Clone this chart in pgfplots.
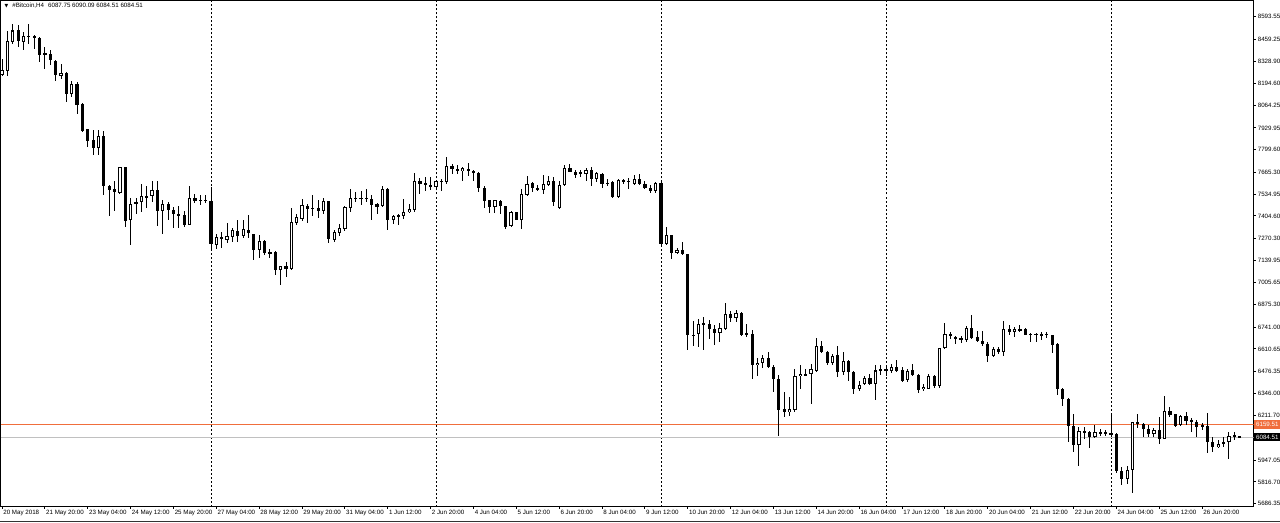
\documentclass[border=0pt]{standalone}
\usepackage{pgfplots}
\usepackage{pgfplotstable}
\usepackage{fontspec}
\pgfplotsset{compat=1.18}
\setmainfont{Liberation Sans}
\newfontfamily\symfont{DejaVu Sans}
\definecolor{askline}{RGB}{240,110,60}
\definecolor{bidline}{RGB}{192,192,192}
\newcommand\mtfont{\fontsize{4.65}{5}\selectfont}

% H4 bars, i = 0 is 27 May 2018 00:00
\pgfplotstableread{
i o h l c
-39 8247 8343 8239 8277
-38 8273 8508 8239 8452
-37 8446 8552 8432 8512
-36 8516 8542 8412 8452
-35 8446 8502 8398 8478
-34 8480 8552 8432 8476
-33 8482 8486 8402 8468
-32 8468 8472 8323 8363
-31 8371 8412 8283 8374
-30 8373 8393 8303 8333
-29 8329 8333 8213 8247
-28 8243 8313 8223 8259
-27 8259 8263 8084 8130
-26 8130 8208 8114 8190
-25 8190 8204 8014 8070
-24 8074 8078 7905 7911
-23 7921 7925 7815 7855
-22 7859 7915 7770 7811
-21 7811 7915 7770 7885
-20 7885 7911 7531 7583
-19 7581 7587 7407 7561
-18 7563 7616 7433 7547
-17 7541 7700 7537 7696
-16 7696 7700 7338 7372
-15 7378 7511 7232 7475
-14 7477 7511 7417 7487
-13 7487 7597 7427 7523
-12 7521 7583 7451 7519
-11 7523 7616 7487 7557
-10 7557 7616 7342 7433
-9 7433 7497 7298 7475
-8 7475 7491 7382 7443
-7 7443 7457 7332 7417
-6 7417 7467 7332 7407
-5 7411 7437 7338 7352
-4 7352 7583 7348 7511
-3 7513 7537 7483 7493
-2 7498 7527 7471 7496
-1 7498 7527 7483 7496
0 7493 7577 7200 7236
1 7230 7295 7210 7278
2 7276 7308 7212 7272
3 7264 7364 7244 7284
4 7278 7332 7252 7318
5 7314 7378 7248 7288
6 7288 7378 7272 7328
7 7322 7413 7272 7302
8 7298 7300 7139 7202
9 7202 7288 7153 7258
10 7258 7264 7173 7185
11 7188 7208 7153 7184
12 7188 7193 7053 7085
13 7085 7108 6994 7105
14 7105 7129 7039 7089
15 7089 7451 7085 7368
16 7364 7417 7352 7398
17 7388 7507 7372 7471
18 7467 7477 7364 7447
19 7453 7527 7407 7449
20 7451 7497 7392 7437
21 7437 7511 7417 7491
22 7491 7493 7244 7268
23 7264 7318 7252 7308
24 7304 7358 7284 7334
25 7328 7463 7312 7457
26 7451 7567 7431 7511
27 7509 7547 7487 7513
28 7511 7551 7471 7507
29 7510 7567 7487 7512
30 7507 7527 7378 7471
31 7477 7483 7417 7457
32 7463 7583 7457 7563
33 7563 7571 7318 7378
34 7378 7411 7358 7403
35 7407 7417 7352 7405
36 7402 7507 7388 7427
37 7427 7477 7423 7447
38 7443 7662 7431 7612
39 7612 7630 7537 7597
40 7598 7636 7551 7596
41 7591 7636 7557 7581
42 7577 7622 7571 7616
43 7616 7626 7551 7606
44 7606 7756 7597 7702
45 7702 7716 7656 7686
46 7686 7710 7656 7672
47 7672 7696 7612 7690
48 7686 7722 7646 7672
49 7672 7682 7616 7662
50 7662 7666 7547 7571
51 7571 7583 7451 7497
52 7497 7503 7423 7457
53 7457 7503 7423 7497
54 7493 7497 7417 7463
55 7463 7467 7328 7338
56 7344 7437 7338 7431
57 7427 7431 7378 7382
58 7378 7567 7328 7537
59 7531 7642 7523 7597
60 7600 7606 7547 7571
61 7568 7587 7551 7566
62 7557 7650 7537 7597
63 7591 7642 7583 7616
64 7616 7636 7463 7487
65 7451 7616 7447 7591
66 7587 7706 7583 7692
67 7692 7716 7666 7670
68 7670 7682 7630 7650
69 7656 7682 7636 7666
70 7656 7690 7616 7682
71 7682 7696 7583 7626
72 7626 7666 7606 7662
73 7656 7662 7571 7597
74 7600 7626 7583 7598
75 7610 7616 7511 7517
76 7517 7626 7511 7620
77 7617 7626 7596 7615
78 7606 7630 7567 7616
79 7597 7650 7591 7626
80 7626 7656 7587 7597
81 7597 7616 7567 7573
82 7573 7587 7543 7551
83 7551 7606 7543 7600
84 7600 7606 7228 7238
85 7238 7338 7230 7292
86 7288 7292 7149 7185
87 7185 7212 7179 7202
88 7202 7252 7173 7179
89 7179 7180 6602 6697
90 6691 6775 6631 6697
91 6697 6791 6621 6761
92 6758 6801 6602 6762
93 6761 6781 6671 6731
94 6731 6751 6635 6707
95 6707 6767 6651 6735
96 6731 6886 6721 6818
97 6818 6840 6771 6795
98 6795 6846 6771 6824
99 6824 6830 6691 6697
100 6703 6761 6681 6697
101 6701 6725 6432 6512
102 6512 6556 6452 6528
103 6528 6572 6496 6558
104 6558 6592 6496 6502
105 6502 6512 6353 6432
106 6432 6456 6094 6249
107 6253 6353 6203 6233
108 6233 6323 6213 6253
109 6249 6488 6237 6448
110 6448 6512 6373 6462
111 6460 6492 6448 6456
112 6462 6522 6283 6492
113 6482 6675 6472 6627
114 6627 6661 6586 6592
115 6592 6596 6512 6528
116 6528 6582 6512 6568
117 6572 6631 6442 6472
118 6472 6592 6456 6538
119 6538 6542 6422 6472
120 6472 6478 6343 6373
121 6369 6422 6357 6397
122 6402 6452 6397 6436
123 6436 6462 6397 6402
124 6402 6516 6303 6482
125 6488 6512 6456 6486
126 6488 6516 6452 6486
127 6482 6522 6468 6502
128 6502 6542 6476 6482
129 6486 6502 6416 6422
130 6426 6492 6416 6482
131 6486 6522 6448 6456
132 6456 6462 6349 6363
133 6369 6402 6357 6383
134 6373 6462 6369 6452
135 6448 6456 6377 6389
136 6389 6618 6377 6615
137 6615 6767 6611 6701
138 6701 6711 6671 6687
139 6678 6687 6641 6676
140 6673 6687 6647 6671
141 6667 6747 6655 6735
142 6735 6814 6671 6677
143 6681 6715 6651 6661
144 6661 6715 6631 6641
145 6641 6651 6532 6568
146 6568 6621 6562 6611
147 6611 6621 6582 6592
148 6592 6775 6568 6727
149 6731 6751 6695 6711
150 6711 6741 6681 6731
151 6727 6751 6711 6725
152 6731 6735 6691 6695
153 6701 6707 6651 6695
154 6698 6707 6651 6700
155 6697 6711 6667 6695
156 6699 6711 6675 6697
157 6691 6695 6588 6637
158 6641 6647 6333 6373
159 6373 6377 6269 6313
160 6313 6317 6054 6150
161 6150 6223 5995 6040
162 6040 6144 5911 6120
163 6118 6144 6074 6110
164 6114 6118 6018 6084
165 6084 6154 6078 6114
166 6112 6134 6090 6110
167 6104 6124 6094 6114
168 6104 6230 6084 6102
169 6104 6108 5870 5880
170 5884 5904 5799 5833
171 5833 5912 5805 5888
172 5888 6177 5749 6173
173 6173 6223 6137 6161
174 6161 6167 6083 6133
175 6131 6157 6083 6103
176 6103 6137 6087 6127
177 6127 6207 6043 6073
178 6073 6330 6071 6240
179 6240 6266 6207 6217
180 6221 6223 6147 6153
181 6157 6217 6151 6211
182 6211 6237 6157 6183
183 6187 6197 6117 6177
184 6177 6187 6087 6147
185 6152 6171 6127 6150
186 6151 6227 5988 6058
187 6058 6083 5998 6024
188 6024 6067 6018 6044
189 6044 6083 6028 6054
190 6054 6113 5952 6093
191 6093 6117 6067 6095
192 6087.75 6090.09 6084.51 6084.51
}\candles

\begin{document}
\begin{tikzpicture}
\begin{axis}[
  at={(0,0)}, anchor=south west,
  scale only axis,
  width=939.4pt, height=379.5pt,
  xmin=-39.2, xmax=194.6,
  ymin=5670, ymax=8691,
  clip mode=individual,
  axis line style={line width=0.75pt},
  tick align=outside,
  major tick length=1.5pt,
  tick style={line width=0.75pt, black},
  xtick pos=left, ytick pos=right,
  yticklabel pos=right,
  ticklabel style={font=\mtfont},
  xticklabel style={anchor=north west, inner sep=0pt, xshift=0.75pt, yshift=-1.2pt},
  yticklabel style={anchor=west, inner sep=0pt, xshift=1.5pt},
  xtick={-39,-31,-23,-15,-7,1,9,17,25,33,41,49,57,65,73,81,89,97,105,113,121,129,137,145,153,161,169,177,185},
  xticklabels={{20 May 2018},{21 May 20:00},{23 May 04:00},{24 May 12:00},{25 May 20:00},{27 May 04:00},{28 May 12:00},{29 May 20:00},{31 May 04:00},{1 Jun 12:00},{2 Jun 20:00},{4 Jun 04:00},{5 Jun 12:00},{6 Jun 20:00},{8 Jun 04:00},{9 Jun 12:00},{10 Jun 20:00},{12 Jun 04:00},{13 Jun 12:00},{14 Jun 20:00},{16 Jun 04:00},{17 Jun 12:00},{18 Jun 20:00},{20 Jun 04:00},{21 Jun 12:00},{22 Jun 20:00},{24 Jun 04:00},{25 Jun 12:00},{26 Jun 20:00}},
  ytick={5686.35,5816.70,5947.05,6211.70,6346.00,6476.35,6610.65,6741.00,6875.30,7005.65,7139.95,7270.30,7404.60,7534.95,7665.30,7799.60,7929.95,8064.25,8194.60,8328.90,8459.25,8593.55},
  yticklabels={5686.35,5816.70,5947.05,6211.70,6346.00,6476.35,6610.65,6741.00,6875.30,7005.65,7139.95,7270.30,7404.60,7534.95,7665.30,7799.60,7929.95,8064.25,8194.60,8328.90,8459.25,8593.55},
  extra x ticks={0,42,84,126,168},
  extra x tick labels={},
  extra x tick style={grid=major, major tick length=0pt,
    major grid style={black, line width=0.75pt, dash pattern=on 1.5pt off 1.5pt}},
  candle/.style={forget plot, only marks, mark=*, mark size=0pt,
    mark options={draw=none, fill=none},
    error bars/y dir=both, error bars/y explicit, error bars/error mark=none},
]
% bid / ask lines
\addplot[forget plot, bidline, line width=0.75pt] coordinates {(-39.2,6084.51) (194.6,6084.51)};
\addplot[forget plot, askline, line width=0.75pt] coordinates {(-39.2,6159.51) (194.6,6159.51)};

% wicks
\addplot[candle, error bars/error bar style={black, line width=0.75pt, line cap=butt}]
  table[x=i, y expr={(\thisrow{h}+\thisrow{l})/2},
        y error expr={(\thisrow{h}-\thisrow{l})/2}] {\candles};
% bodies
\addplot[candle, error bars/error bar style={black, line width=2.4pt, line cap=butt}]
  table[x=i, y expr={(\thisrow{o}+\thisrow{c})/2},
        y error expr={max(abs(\thisrow{o}-\thisrow{c})/2,3)}] {\candles};
% hollow inside of the rising bars
\addplot[candle, restrict y to domain=5000:9000,
  error bars/error bar style={white, line width=0.9pt, line cap=butt}]
  table[x=i, y expr={((\thisrow{c}-\thisrow{o})>13) ? ((\thisrow{o}+\thisrow{c})/2) : (-1)},
        y error expr={(\thisrow{c}-\thisrow{o})/2-6}] {\candles};

\node[fill=askline, text=white, font=\mtfont, inner sep=0pt,
  minimum width=19.5pt, minimum height=6.6pt, anchor=west]
  at (axis cs:194.6,6159.51) [xshift=0.4pt] {6159.51};
\node[fill=black, text=white, font=\mtfont, inner sep=0pt,
  minimum width=19.5pt, minimum height=6.6pt, anchor=west]
  at (axis cs:194.6,6084.51) [xshift=0.4pt] {6084.51};

\node[anchor=north west, inner sep=0pt, font=\mtfont]
  at (rel axis cs:0,1) [xshift=2.6pt, yshift=-2pt]
  {{\symfont\fontsize{3.6}{4}\selectfont ▼}\hspace{3pt}\#Bitcoin,H4\hspace{3pt}6087.75 6090.09 6084.51 6084.51};
\end{axis}
\draw[line width=1.1pt, black!80] (-0.75pt,-11.05pt) -- (959.25pt,-11.05pt);
\pgfresetboundingbox
\useasboundingbox (-0.75pt,-11.625pt) rectangle (959.25pt,379.875pt);
\end{tikzpicture}
\end{document}
